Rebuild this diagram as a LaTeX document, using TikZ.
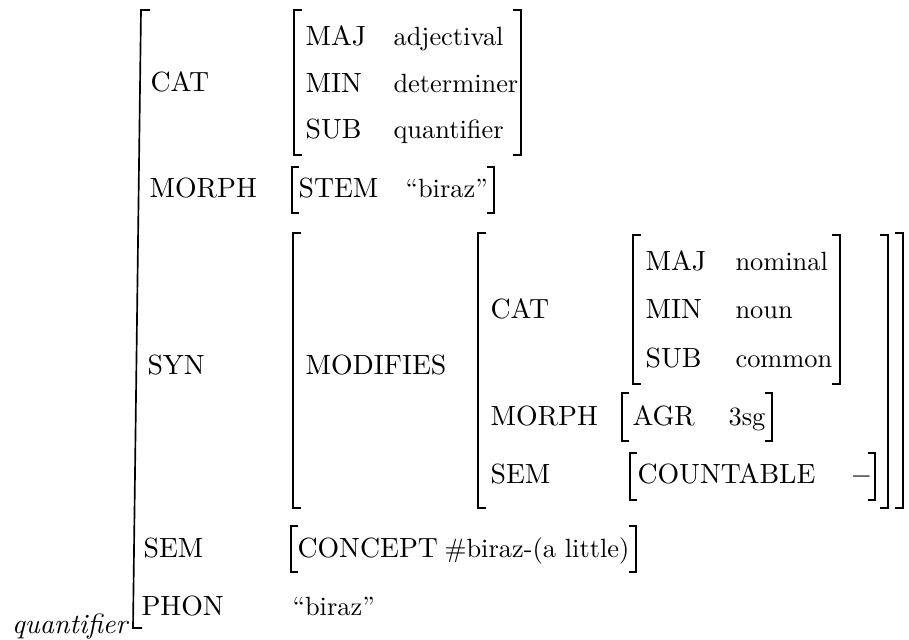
\documentclass[tikz,border=0pt]{standalone}
\begin{document}
\begin{tikzpicture}[x=0.36pt,y=-0.36pt,
    brk/.style={line width=0.6pt},
    lbl/.style={anchor=base west,inner sep=0pt},
    val/.style={anchor=base west,inner sep=0pt,font=\fontsize{9.5}{11}\selectfont}]
                    \useasboundingbox (0,0) rectangle (909,640);
                    {\normalsize

                    % Drawing outer left bracket
                    \draw [brk] (150,10) -- (141,10) -- (133,628) -- (142,628);%
                    \node (q) [anchor=base east,inner sep=0pt] at (128,633) {\itshape quantifier};%

                    % Marking attribute CAT
                    \node (cat) [lbl] at (150,91) {CAT};%
                    \draw [brk] (302,10) -- (294,10) -- (294,155) -- (302,155);%
                    \draw [brk] (513,10) -- (521,10) -- (521,155) -- (513,155);%
                    \node (maj) [lbl] at (305,45) {MAJ};%
                    \node (majv) [val] at (393,45) {adjectival};%
                    \node (min) [lbl] at (305,92) {MIN};%
                    \node (minv) [val] at (393,92) {determiner};%
                    \node (sub) [lbl] at (305,138) {SUB};%
                    \node (subv) [val] at (393,138) {quantifier};%

                    % Marking attribute MORPH
                    \node (morph) [lbl] at (149,197) {MORPH};%
                    \draw [brk] (299,167) -- (292,167) -- (292,213) -- (299,213);%
                    \draw [brk] (487,167) -- (494,167) -- (494,213) -- (487,213);%
                    \node (stem) [lbl] at (298,197) {STEM};%
                    \node (stemv) [val] at (405,197) {``biraz''};%

                    % Marking attribute SYN
                    \node (syn) [lbl] at (147,374) {SYN};%
                    \draw [brk] (301,233) -- (293,233) -- (293,508) -- (301,508);%
                    \draw [brk] (895,233) -- (903,233) -- (903,508) -- (895,508);%
                    \node (mod) [lbl] at (305,374) {MODIFIES};%

                    % Drawing MODIFIES value
                    \draw [brk] (486,233) -- (478,233) -- (478,508) -- (486,508);%
                    \draw [brk] (880,235) -- (888,235) -- (888,508) -- (880,508);%
                    \node (mcat) [lbl] at (490,318) {CAT};%
                    \draw [brk] (641,235) -- (633,235) -- (633,384) -- (641,384);%
                    \draw [brk] (832,235) -- (840,235) -- (840,384) -- (832,384);%
                    \node (mmaj) [lbl] at (645,270) {MAJ};%
                    \node (mmajv) [val] at (735,270) {nominal};%
                    \node (mmin) [lbl] at (645,318) {MIN};%
                    \node (mminv) [val] at (735,318) {noun};%
                    \node (msub) [lbl] at (645,367) {SUB};%
                    \node (msubv) [val] at (735,367) {common};%
                    \node (mmorph) [lbl] at (490,425) {MORPH};%
                    \draw [brk] (629,393) -- (622,393) -- (622,441) -- (629,441);%
                    \draw [brk] (765,393) -- (772,393) -- (772,441) -- (765,441);%
                    \node (agr) [lbl] at (632,425) {AGR};%
                    \node (agrv) [val] at (728,425) {3sg};%
                    \node (msem) [lbl] at (490,483) {SEM};%
                    \draw [brk] (637,453) -- (630,453) -- (630,500) -- (637,500);%
                    \draw [brk] (868,453) -- (875,453) -- (875,500) -- (868,500);%
                    \node (cnt) [lbl] at (637,483) {COUNTABLE};%
                    \node (cntv) [lbl] at (850,483) {$-$};%

                    % Marking attribute SEM
                    \node (sem) [lbl] at (143,557) {SEM};%
                    \draw [brk] (298,526) -- (291,526) -- (291,572) -- (298,572);%
                    \draw [brk] (629,526) -- (636,526) -- (636,572) -- (629,572);%
                    \node (conc) [lbl] at (297,557) {CONCEPT};%
                    \node (concv) [val] at (444,557) {\#biraz-(a little)};%

                    % Marking attribute PHON
                    \node (phon) [lbl] at (141,615) {PHON};%
                    \node (phonv) [val] at (292,615) {``biraz''};%
                    }
\end{tikzpicture}
\end{document}
